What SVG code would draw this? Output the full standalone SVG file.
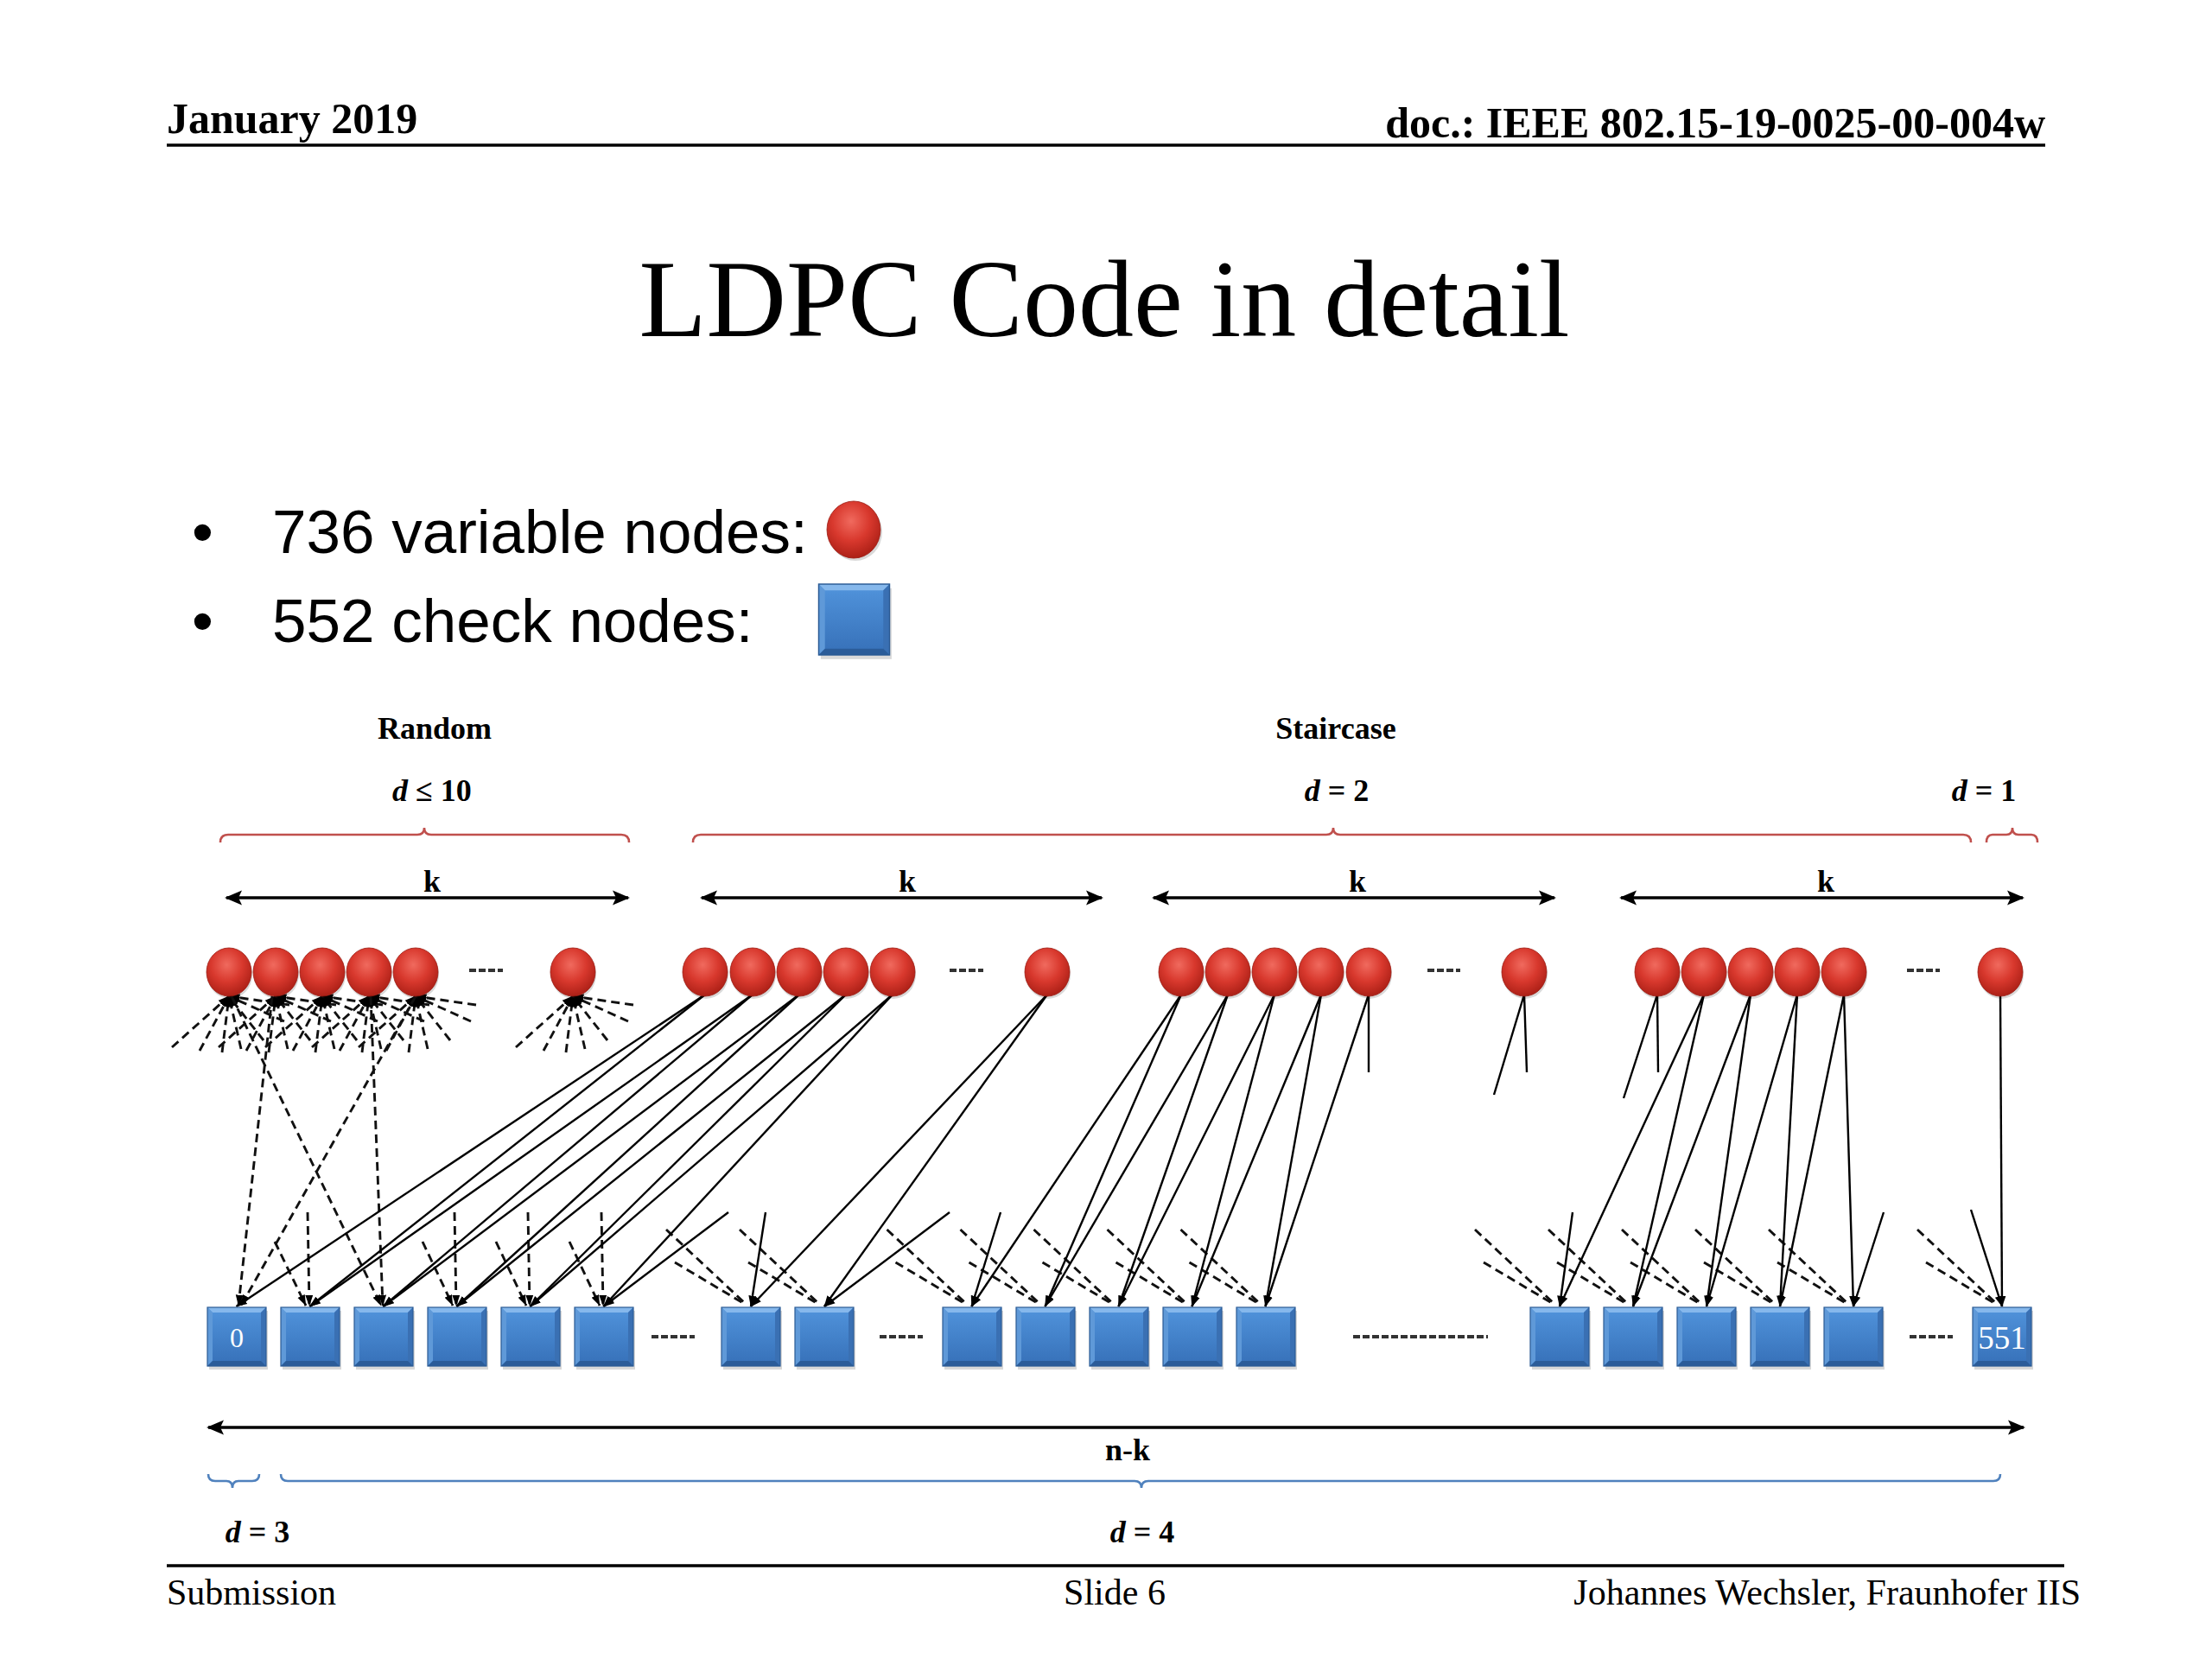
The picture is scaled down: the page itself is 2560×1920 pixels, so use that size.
<svg xmlns="http://www.w3.org/2000/svg" xmlns:xlink="http://www.w3.org/1999/xlink" width="2560" height="1920" viewBox="0 0 2560 1920">
<defs>
<style>
.hd{font-family:"Liberation Serif","Times New Roman",serif;font-weight:bold;font-size:50px;fill:#000}
.ft{font-family:"Liberation Serif","Times New Roman",serif;font-size:42px;fill:#000}
.ttl{font-family:"Liberation Serif","Times New Roman",serif;font-size:128px;fill:#000}
.bl{font-family:"Liberation Sans",Arial,sans-serif;font-size:71px;fill:#000}
.lb{font-family:"Liberation Serif","Times New Roman",serif;font-weight:bold;font-size:36px;fill:#000}
.sqt{font-family:"Liberation Serif","Times New Roman",serif;fill:#fff}
.sol{stroke:#000;stroke-width:2.4;fill:none}
.dsh{stroke:#111;stroke-width:2.9;stroke-dasharray:10 6;fill:none}
.el{stroke:#333;stroke-width:4;stroke-dasharray:8 3;fill:none}
.rb{stroke:#c0504d;stroke-width:2.6;fill:none}
.bb{stroke:#4f81bd;stroke-width:2.6;fill:none}
.ka{stroke:#000;stroke-width:3.5;fill:none}
.hl{stroke:#000;stroke-width:3.5;fill:none}
</style>
<linearGradient id="gsq" x1="0" y1="0" x2="0" y2="1">
<stop offset="0" stop-color="#5194dc"/><stop offset="1" stop-color="#3670b8"/>
</linearGradient>
<radialGradient id="gc" cx="0.45" cy="0.35" r="0.7">
<stop offset="0" stop-color="#f06a5e"/><stop offset="0.5" stop-color="#d8382d"/><stop offset="1" stop-color="#a51c13"/>
</radialGradient>
<symbol id="sqs" viewBox="0 0 68 68" overflow="visible">
<rect x="2" y="4" width="68" height="68" fill="#000" opacity="0.15"/>
<rect x="0" y="0" width="68" height="68" fill="url(#gsq)"/>
<polygon points="0,0 68,0 62,6 6,6" fill="#86b8ec"/>
<polygon points="0,0 6,6 6,62 0,68" fill="#5f99d8"/>
<polygon points="68,0 68,68 62,62 62,6" fill="#3a70b3"/>
<polygon points="0,68 6,62 62,62 68,68" fill="#2b5c99"/>
<rect x="0" y="0" width="68" height="68" fill="none" stroke="#2a5a94" stroke-width="1.2"/>
</symbol>
<symbol id="vn" viewBox="-30 -30 60 60" overflow="visible">
<ellipse cx="1" cy="3" rx="26" ry="28" fill="#000" opacity="0.15"/>
<ellipse cx="0" cy="0" rx="26" ry="28" fill="url(#gc)" stroke="#9a1b12" stroke-width="0.8"/>
</symbol>
<marker id="ah" viewBox="0 0 10 10" refX="9.5" refY="5" markerWidth="13" markerHeight="13" markerUnits="userSpaceOnUse" orient="auto">
<path d="M0,1.5 L10,5 L0,8.5 Z" fill="#000"/>
</marker>
<marker id="kh" viewBox="0 0 10 10" refX="9" refY="5" markerWidth="20" markerHeight="20" markerUnits="userSpaceOnUse" orient="auto-start-reverse">
<path d="M0,0.8 L10,5 L0,9.2 L2,5 Z" fill="#000"/>
</marker>
</defs>
<rect width="2560" height="1920" fill="#fff"/>

<g id="header">
<text class="hd" x="193" y="154">January 2019</text>
<text class="hd" x="2367" y="159" text-anchor="end">doc.: IEEE 802.15-19-0025-00-004w</text>
<line class="hl" x1="193" y1="168" x2="2367" y2="168"/>
</g>
<text id="title" class="ttl" x="1278" y="389" text-anchor="middle">LDPC Code in detail</text>

<g id="legend">
<text class="bl" x="222" y="640">•</text>
<text class="bl" x="315" y="640">736 variable nodes:</text>
<text class="bl" x="222" y="743">•</text>
<text class="bl" x="315" y="743">552 check nodes:</text>
<ellipse cx="990" cy="616" rx="31" ry="33" fill="#000" opacity="0.15"/>
<ellipse cx="988" cy="613" rx="31" ry="33" fill="url(#gc)" stroke="#9a1b12" stroke-width="0.8"/>
<use href="#sqs" x="947" y="676" width="83" height="82"/>
</g>

<g id="annotations">
<text class="lb" x="503" y="855" text-anchor="middle">Random</text>
<text class="lb" x="1546" y="855" text-anchor="middle">Staircase</text>
<text class="lb" x="500" y="927" text-anchor="middle"><tspan font-style="italic">d</tspan> ≤ 10</text>
<text class="lb" x="1547" y="927" text-anchor="middle"><tspan font-style="italic">d</tspan> = 2</text>
<text class="lb" x="2296" y="927" text-anchor="middle"><tspan font-style="italic">d</tspan> = 1</text>
<path class="rb" d="M255,975 Q255,966 264,966 L483,966 Q491,966 491,958 Q491,966 499,966 L719,966 Q728,966 728,975"/>
<path class="rb" d="M802,975 Q802,966 811,966 L1535,966 Q1543,966 1543,958 Q1543,966 1551,966 L2272,966 Q2281,966 2281,975"/>
<path class="rb" d="M2299,975 Q2299,966 2306,966 L2322,966 Q2329,966 2329,958 Q2329,966 2336,966 L2351,966 Q2358,966 2358,975"/>
<line class="ka" x1="262" y1="1039" x2="727" y2="1039" marker-start="url(#kh)" marker-end="url(#kh)"/>
<line class="ka" x1="812" y1="1039" x2="1275" y2="1039" marker-start="url(#kh)" marker-end="url(#kh)"/>
<line class="ka" x1="1335" y1="1039" x2="1799" y2="1039" marker-start="url(#kh)" marker-end="url(#kh)"/>
<line class="ka" x1="1876" y1="1039" x2="2341" y2="1039" marker-start="url(#kh)" marker-end="url(#kh)"/>
<text class="lb" x="500" y="1032" text-anchor="middle">k</text>
<text class="lb" x="1050" y="1032" text-anchor="middle">k</text>
<text class="lb" x="1571" y="1032" text-anchor="middle">k</text>
<text class="lb" x="2113" y="1032" text-anchor="middle">k</text>
<line class="ka" x1="241" y1="1652" x2="2342" y2="1652" marker-start="url(#kh)" marker-end="url(#kh)"/>
<text class="lb" x="1305" y="1690" text-anchor="middle">n-k</text>
<path class="bb" d="M241,1706 Q241,1714 249,1714 L262,1714 Q269,1714 269,1722 Q269,1714 276,1714 L292,1714 Q300,1714 300,1706"/>
<path class="bb" d="M325,1706 Q325,1714 333,1714 L1313,1714 Q1321,1714 1321,1722 Q1321,1714 1329,1714 L2307,1714 Q2315,1714 2315,1706"/>
<text class="lb" x="298" y="1785" text-anchor="middle"><tspan font-style="italic">d</tspan> = 3</text>
<text class="lb" x="1322" y="1785" text-anchor="middle"><tspan font-style="italic">d</tspan> = 4</text>
</g>

<g id="connectors">
<g class="dsh" marker-end="url(#ah)">
<path d="M199,1212 L265,1153"/><path d="M231,1216 L265,1153"/><path d="M257,1218 L265,1153"/><path d="M279,1214 L265,1153"/><path d="M305,1204 L265,1153"/><path d="M329,1182 L265,1153"/><path d="M335,1163 L265,1153"/>
<path d="M253,1212 L319,1153"/><path d="M285,1216 L319,1153"/><path d="M311,1218 L319,1153"/><path d="M333,1214 L319,1153"/><path d="M359,1204 L319,1153"/><path d="M383,1182 L319,1153"/><path d="M389,1163 L319,1153"/>
<path d="M307,1212 L373,1153"/><path d="M339,1216 L373,1153"/><path d="M365,1218 L373,1153"/><path d="M387,1214 L373,1153"/><path d="M413,1204 L373,1153"/><path d="M437,1182 L373,1153"/><path d="M443,1163 L373,1153"/>
<path d="M361,1212 L427,1153"/><path d="M393,1216 L427,1153"/><path d="M419,1218 L427,1153"/><path d="M441,1214 L427,1153"/><path d="M467,1204 L427,1153"/><path d="M491,1182 L427,1153"/><path d="M497,1163 L427,1153"/>
<path d="M415,1212 L481,1153"/><path d="M447,1216 L481,1153"/><path d="M473,1218 L481,1153"/><path d="M495,1214 L481,1153"/><path d="M521,1204 L481,1153"/><path d="M545,1182 L481,1153"/><path d="M551,1163 L481,1153"/>
<path d="M597,1212 L663,1153"/><path d="M629,1216 L663,1153"/><path d="M655,1218 L663,1153"/><path d="M677,1214 L663,1153"/><path d="M703,1204 L663,1153"/><path d="M727,1182 L663,1153"/><path d="M733,1163 L663,1153"/>
</g>
<g class="dsh" marker-end="url(#ah)">
<path d="M315,1153 L276,1511"/>
<path d="M268,1153 L441,1511"/>
<path d="M481,1153 L279,1511"/>
<path d="M429,1153 L443,1511"/>
<path d="M356,1403 L358,1511"/><path d="M318,1437 L354,1511"/>
<path d="M526,1403 L528,1511"/><path d="M489,1437 L524,1511"/>
<path d="M611,1403 L613,1511"/><path d="M574,1437 L609,1511"/>
<path d="M696,1403 L698,1511"/><path d="M659,1437 L694,1511"/>
</g>
<g class="dsh">
<path d="M771,1423 L864,1510"/><path d="M781,1461 L860,1508"/>
<path d="M856,1423 L949,1510"/><path d="M866,1461 L945,1508"/>
<path d="M1026.5,1423 L1119.5,1510"/><path d="M1036.5,1461 L1115.5,1508"/>
<path d="M1111.5,1423 L1204.5,1510"/><path d="M1121.5,1461 L1200.5,1508"/>
<path d="M1196.5,1423 L1289.5,1510"/><path d="M1206.5,1461 L1285.5,1508"/>
<path d="M1281.5,1423 L1374.5,1510"/><path d="M1291.5,1461 L1370.5,1508"/>
<path d="M1366.5,1423 L1459.5,1510"/><path d="M1376.5,1461 L1455.5,1508"/>
<path d="M1707,1423 L1800,1510"/><path d="M1717,1461 L1796,1508"/>
<path d="M1792,1423 L1885,1510"/><path d="M1802,1461 L1881,1508"/>
<path d="M1877,1423 L1970,1510"/><path d="M1887,1461 L1966,1508"/>
<path d="M1962,1423 L2055,1510"/><path d="M1972,1461 L2051,1508"/>
<path d="M2047,1423 L2140,1510"/><path d="M2057,1461 L2136,1508"/>
<path d="M2219,1423 L2312,1510"/><path d="M2229,1461 L2308,1508"/>
</g>
<g class="sol" marker-end="url(#ah)">
<path d="M816,1151 L273.5,1512"/><path d="M816,1151 L358.5,1512"/>
<path d="M871,1151 L358.5,1512"/><path d="M871,1151 L443.5,1512"/>
<path d="M925,1151 L443.5,1512"/><path d="M925,1151 L528.5,1512"/>
<path d="M979,1151 L528.5,1512"/><path d="M979,1151 L613.5,1512"/>
<path d="M1033,1151 L613.5,1512"/><path d="M1033,1151 L698.5,1512"/>
<path d="M843,1403 L698.5,1512"/><path d="M886,1403 L869,1512"/>
<path d="M1099,1403 L954,1512"/><path d="M1158,1403 L1124.5,1512"/>
<path d="M1212,1151 L869,1512"/><path d="M1212,1151 L954,1512"/>
<path d="M1367,1151 L1124.5,1512"/><path d="M1367,1151 L1209.5,1512"/>
<path d="M1421,1151 L1209.5,1512"/><path d="M1421,1151 L1294.5,1512"/>
<path d="M1475,1151 L1294.5,1512"/><path d="M1475,1151 L1379.5,1512"/>
<path d="M1529,1151 L1379.5,1512"/><path d="M1529,1151 L1464.5,1512"/>
<path d="M1584,1151 L1464.5,1512"/>
<path d="M1972,1151 L1805,1512"/><path d="M1972,1151 L1890,1512"/>
<path d="M2026,1151 L1890,1512"/><path d="M2026,1151 L1975,1512"/>
<path d="M2080,1151 L1975,1512"/><path d="M2080,1151 L2060,1512"/>
<path d="M2134,1151 L2060,1512"/><path d="M2134,1151 L2145,1512"/>
<path d="M1820,1403 L1805,1512"/><path d="M2180,1403 L2145,1512"/><path d="M2281,1400 L2317,1512"/>
<path d="M2315,1151 L2317,1512"/>
</g>
<g class="sol">
<path d="M1584,1151 L1584,1241"/>
<path d="M1764,1151 L1729,1267"/><path d="M1764,1151 L1767,1241"/>
<path d="M1918,1151 L1879,1271"/><path d="M1918,1151 L1919,1241"/>
</g>
<line class="el" x1="543" y1="1123" x2="582" y2="1123"/>
<line class="el" x1="1099" y1="1123" x2="1138" y2="1123"/>
<line class="el" x1="1652" y1="1123" x2="1690" y2="1123"/>
<line class="el" x1="2207" y1="1123" x2="2245" y2="1123"/>
<line class="el" x1="754" y1="1547" x2="804" y2="1547"/>
<line class="el" x1="1018" y1="1547" x2="1068" y2="1547"/>
<line class="el" x1="1566" y1="1547" x2="1722" y2="1547"/>
<line class="el" x1="2210" y1="1547" x2="2260" y2="1547"/>
</g>

<g id="variable-nodes">
<use id="v1" href="#vn" x="235" y="1095" width="60" height="60"/>
<use id="v2" href="#vn" x="289" y="1095" width="60" height="60"/>
<use id="v3" href="#vn" x="343" y="1095" width="60" height="60"/>
<use id="v4" href="#vn" x="397" y="1095" width="60" height="60"/>
<use id="v5" href="#vn" x="451" y="1095" width="60" height="60"/>
<use id="v6" href="#vn" x="633" y="1095" width="60" height="60"/>
<use id="v7" href="#vn" x="786" y="1095" width="60" height="60"/>
<use id="v8" href="#vn" x="841" y="1095" width="60" height="60"/>
<use id="v9" href="#vn" x="895" y="1095" width="60" height="60"/>
<use id="v10" href="#vn" x="949" y="1095" width="60" height="60"/>
<use id="v11" href="#vn" x="1003" y="1095" width="60" height="60"/>
<use id="v12" href="#vn" x="1182" y="1095" width="60" height="60"/>
<use id="v13" href="#vn" x="1337" y="1095" width="60" height="60"/>
<use id="v14" href="#vn" x="1391" y="1095" width="60" height="60"/>
<use id="v15" href="#vn" x="1445" y="1095" width="60" height="60"/>
<use id="v16" href="#vn" x="1499" y="1095" width="60" height="60"/>
<use id="v17" href="#vn" x="1554" y="1095" width="60" height="60"/>
<use id="v18" href="#vn" x="1734" y="1095" width="60" height="60"/>
<use id="v19" href="#vn" x="1888" y="1095" width="60" height="60"/>
<use id="v20" href="#vn" x="1942" y="1095" width="60" height="60"/>
<use id="v21" href="#vn" x="1996" y="1095" width="60" height="60"/>
<use id="v22" href="#vn" x="2050" y="1095" width="60" height="60"/>
<use id="v23" href="#vn" x="2104" y="1095" width="60" height="60"/>
<use id="v24" href="#vn" x="2285" y="1095" width="60" height="60"/>
</g>

<g id="check-nodes">
<g id="c0"><use href="#sqs" x="240" y="1513" width="68" height="68"/><text class="sqt" x="274" y="1559" font-size="32" text-anchor="middle">0</text></g>
<g id="c1"><use href="#sqs" x="325" y="1513" width="68" height="68"/></g>
<g id="c2"><use href="#sqs" x="410" y="1513" width="68" height="68"/></g>
<g id="c3"><use href="#sqs" x="495" y="1513" width="68" height="68"/></g>
<g id="c4"><use href="#sqs" x="580" y="1513" width="68" height="68"/></g>
<g id="c5"><use href="#sqs" x="665" y="1513" width="68" height="68"/></g>
<g id="c6"><use href="#sqs" x="835" y="1513" width="68" height="68"/></g>
<g id="c7"><use href="#sqs" x="920" y="1513" width="68" height="68"/></g>
<g id="c8"><use href="#sqs" x="1091" y="1513" width="68" height="68"/></g>
<g id="c9"><use href="#sqs" x="1176" y="1513" width="68" height="68"/></g>
<g id="c10"><use href="#sqs" x="1261" y="1513" width="68" height="68"/></g>
<g id="c11"><use href="#sqs" x="1346" y="1513" width="68" height="68"/></g>
<g id="c12"><use href="#sqs" x="1431" y="1513" width="68" height="68"/></g>
<g id="c13"><use href="#sqs" x="1771" y="1513" width="68" height="68"/></g>
<g id="c14"><use href="#sqs" x="1856" y="1513" width="68" height="68"/></g>
<g id="c15"><use href="#sqs" x="1941" y="1513" width="68" height="68"/></g>
<g id="c16"><use href="#sqs" x="2026" y="1513" width="68" height="68"/></g>
<g id="c17"><use href="#sqs" x="2111" y="1513" width="68" height="68"/></g>
<g id="c551"><use href="#sqs" x="2283" y="1513" width="68" height="68"/><text class="sqt" x="2317" y="1561" font-size="37" text-anchor="middle">551</text></g>
</g>

<g id="footer">
<line class="hl" x1="193" y1="1812" x2="2389" y2="1812"/>
<text class="ft" x="193" y="1857">Submission</text>
<text class="ft" x="1290" y="1857" text-anchor="middle">Slide 6</text>
<text class="ft" x="2408" y="1857" text-anchor="end">Johannes Wechsler, Fraunhofer IIS</text>
</g>
</svg>
